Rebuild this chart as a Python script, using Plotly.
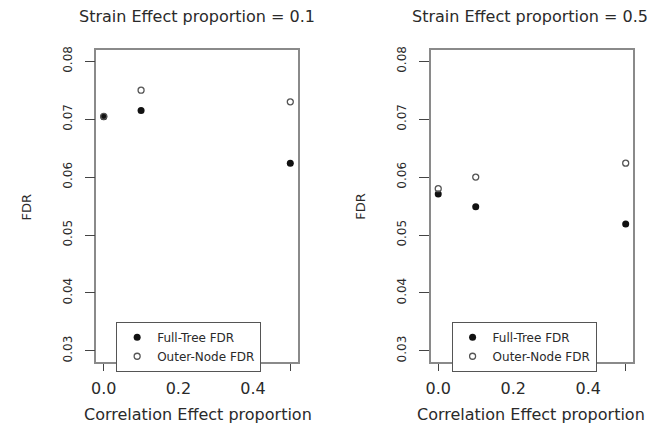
import plotly.graph_objects as go

# ---- data ----
corr_effect = [0.0, 0.1, 0.5]
left_full_tree = [0.0704, 0.0715, 0.0624]
left_outer_node = [0.0705, 0.0750, 0.0730]
right_full_tree = [0.0571, 0.0549, 0.0519]
right_outer_node = [0.0580, 0.0600, 0.0624]
panel_titles = ["Strain Effect proportion = 0.1", "Strain Effect proportion = 0.5"]
x_tickvals = [0.0, 0.1, 0.2, 0.3, 0.4, 0.5]
x_ticktext = ["0.0", "", "0.2", "", "0.4", ""]
y_tickvals = [0.03, 0.04, 0.05, 0.06, 0.07, 0.08]
y_ticktext = ["0.03", "0.04", "0.05", "0.06", "0.07", "0.08"]
series_names = ["Full-Tree FDR", "Outer-Node FDR"]

FONT = "DejaVu Sans"
TXT = "#2a2a2a"
W, H = 658, 425

fig = go.Figure()

panels = [
    ("x", "y", "legend", left_full_tree, left_outer_node),
    ("x2", "y2", "legend2", right_full_tree, right_outer_node),
]
for xa, ya, lg, full, outer in panels:
    fig.add_trace(go.Scatter(
        x=corr_effect, y=full, mode="markers", name=series_names[0],
        xaxis=xa, yaxis=ya, legend=lg,
        marker=dict(symbol="circle", size=7, color="#111111"),
    ))
    fig.add_trace(go.Scatter(
        x=corr_effect, y=outer, mode="markers", name=series_names[1],
        xaxis=xa, yaxis=ya, legend=lg,
        marker=dict(symbol="circle-open", size=6, color="#555555",
                    line=dict(width=1.3, color="#555555")),
    ))

def px_x(p):
    return p / W

def px_y(p):
    return 1 - p / H

xdoms = [[px_x(92), px_x(295)], [px_x(429), px_x(633)]]
ydom = [px_y(362), px_y(47)]

common_x = dict(range=[-0.02, 0.52], tickvals=x_tickvals, ticktext=x_ticktext,
                showline=True, mirror=True, linecolor="#8a8a8a", linewidth=1.5,
                ticks="outside", ticklen=7, tickwidth=1.2, tickcolor="#444444",
                showgrid=False, zeroline=False,
                tickfont=dict(family=FONT, size=16, color=TXT),
                ticklabelstandoff=4)
common_y = dict(range=[0.028, 0.082], tickvals=y_tickvals, ticktext=y_ticktext,
                showline=True, mirror=True, linecolor="#8a8a8a", linewidth=1.5,
                ticks="outside", ticklen=10, tickwidth=1.2, tickcolor="#444444",
                showgrid=False, zeroline=False, tickangle=-90,
                tickfont=dict(family=FONT, size=12, color=TXT),
                ticklabelstandoff=8)

legend_common = dict(
    bgcolor="white", bordercolor="#555555", borderwidth=1,
    font=dict(family=FONT, size=12, color=TXT),
    xanchor="left", yanchor="top", tracegroupgap=0, itemwidth=30,
)

fig.update_layout(
    width=W, height=H,
    margin=dict(l=0, r=0, t=0, b=0),
    paper_bgcolor="white", plot_bgcolor="white",
    showlegend=True,
    xaxis=dict(domain=xdoms[0], anchor="y", **common_x),
    yaxis=dict(domain=ydom, anchor="x", **common_y),
    xaxis2=dict(domain=xdoms[1], anchor="y2", **common_x),
    yaxis2=dict(domain=ydom, anchor="x2", **common_y),
    legend=dict(x=px_x(112), y=px_y(321), **legend_common),
    legend2=dict(x=px_x(450), y=px_y(321), **legend_common),
)

annotations = []
for i, (cx, fdrx) in enumerate([(193, 22), (529, 358)]):
    annotations.append(dict(text=panel_titles[i], x=px_x(cx), y=px_y(14),
                            xref="paper", yref="paper", showarrow=False,
                            xanchor="center", yanchor="middle",
                            font=dict(family=FONT, size=16, color=TXT)))
    annotations.append(dict(text="Correlation Effect proportion", x=px_x(cx + 1), y=px_y(414),
                            xref="paper", yref="paper", showarrow=False,
                            xanchor="center", yanchor="middle",
                            font=dict(family=FONT, size=16, color=TXT)))
    annotations.append(dict(text="FDR", x=px_x(fdrx), y=px_y(205), textangle=-90,
                            xref="paper", yref="paper", showarrow=False,
                            xanchor="center", yanchor="middle",
                            font=dict(family=FONT, size=13, color=TXT)))
fig.update_layout(annotations=annotations)

fig.write_html(
    "out.html",
    config={"displayModeBar": False},
    post_script="document.body.style.margin='0';document.body.style.padding='0';document.body.style.overflow='hidden';",
)
